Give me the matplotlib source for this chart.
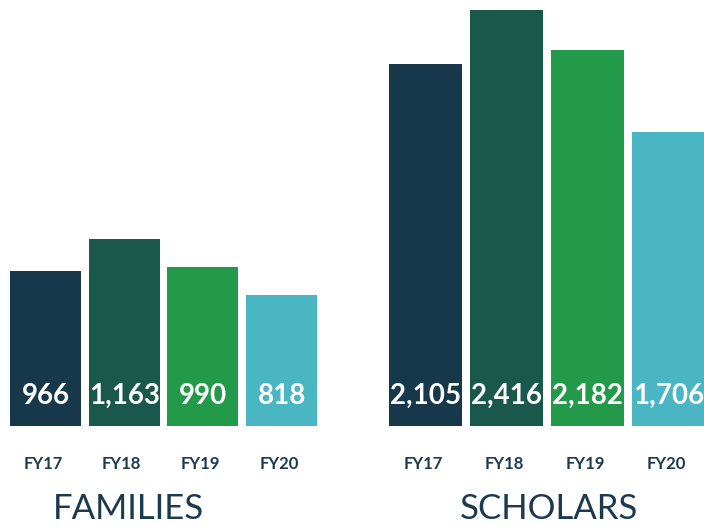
import matplotlib.pyplot as plt

# data
years = ["FY17", "FY18", "FY19", "FY20"]
families = [966, 1163, 990, 818]
scholars = [2105, 2416, 2182, 1706]
bar_colors = ["#17374b", "#19584a", "#239a4a", "#4ab5c3"]
text_color = "#1c3a4e"

fig = plt.figure(figsize=(7.04, 5.27), dpi=100)

W, H = 704, 527


def draw_group(left_px, width_px, values, ymax, title, title_x):
    ax = fig.add_axes([left_px / W, (H - 426) / H, width_px / W, 426 / H])
    x = range(len(values))
    ax.bar(x, values, width=0.9, color=bar_colors)
    ax.set_xlim(-0.45, len(values) - 0.55)
    ax.set_ylim(0, ymax)
    ax.axis("off")

    tr = ax.get_xaxis_transform()
    for i, v in enumerate(values):
        ax.text(i, 0.070, f"{v:,}", transform=tr, ha="center", va="center",
                color="white", fontsize=20, fontweight="bold", family="Lato")
        ax.text(i - 0.03, -0.089, years[i], transform=tr, ha="center", va="center",
                color=text_color, fontsize=12, fontweight="bold", family="Lato")

    fig.text(title_x / W, 1 - 509 / H, title, ha="center", va="center",
             color=text_color, fontsize=25, family="Lato", fontweight="normal")
    return ax


draw_group(10, 307, families, 2653, "FAMILIES", 128)
draw_group(389, 316, scholars, 2474, "SCHOLARS", 549)

fig.savefig("out.png", dpi=100)
